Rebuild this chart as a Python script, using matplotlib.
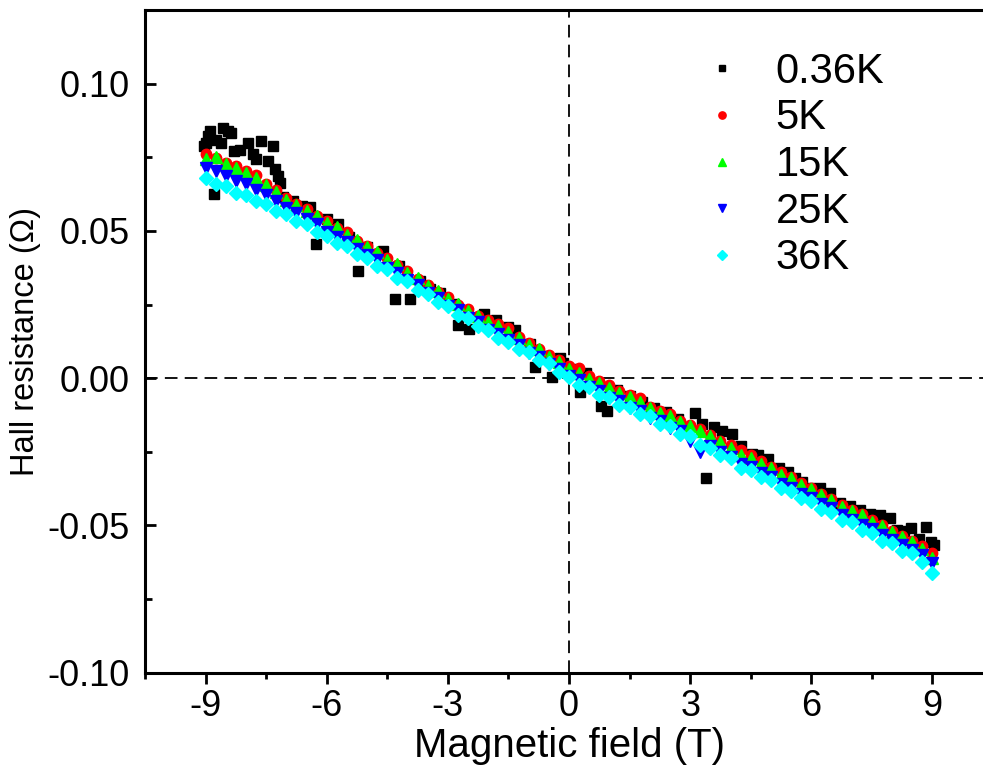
import numpy as np
import matplotlib
matplotlib.use('Agg')
import matplotlib.pyplot as plt
from matplotlib.ticker import MultipleLocator

plt.rcParams['font.family'] = ['Liberation Sans', 'DejaVu Sans']

# field grid (T) shared by the 5K..36K sweeps
field = [-9.0, -8.75, -8.5, -8.25, -8.0, -7.75, -7.5, -7.25, -7.0, -6.75, -6.5, -6.25,
         -6.0, -5.75, -5.5, -5.25, -5.0, -4.75, -4.5, -4.25, -4.0, -3.75, -3.5, -3.25,
         -3.0, -2.75, -2.5, -2.25, -2.0, -1.75, -1.5, -1.25, -1.0, -0.75, -0.5, -0.25,
         0.0, 0.25, 0.5, 0.75, 1.0, 1.25, 1.5, 1.75, 2.0, 2.25, 2.5, 2.75,
         3.0, 3.25, 3.5, 3.75, 4.0, 4.25, 4.5, 4.75, 5.0, 5.25, 5.5, 5.75,
         6.0, 6.25, 6.5, 6.75, 7.0, 7.25, 7.5, 7.75, 8.0, 8.25, 8.5, 8.75, 9.0]

r_5K = [.0762, .0748, .0731, .0722, .0705, .0690, .0660, .0638, .0612, .0590, .0575, .0549,
        .0532, .0510, .0495, .0466, .0450, .0425, .0408, .0383, .0364, .0338, .0318, .0292,
        .0274, .0250, .0236, .0210, .0197, .0185, .0172, .0140, .0118, .0100, .0080, .0062,
        .0042, .0035, .0008, -.0010, -.0022, -.0042, -.0058, -.0068, -.0098, -.0110, -.0122, -.0145,
        -.0158, -.0172, -.0192, -.0212, -.0228, -.0245, -.0262, -.0282, -.0302, -.0318, -.0335, -.0356,
        -.0372, -.0392, -.0410, -.0432, -.0448, -.0462, -.0483, -.0500, -.0518, -.0535, -.0552, -.0570, -.0594]

r_15K = [.0745, .0752, .0728, .0712, .0698, .0680, .0655, .0632, .0606, .0588, .0566, .0552,
         .0528, .0512, .0486, .0470, .0446, .0428, .0402, .0386, .0358, .0340, .0312, .0296,
         .0268, .0252, .0228, .0212, .0190, .0176, .0158, .0138, .0112, .0098, .0072, .0056,
         .0032, .0018, -.0002, -.0018, -.0032, -.0052, -.0064, -.0082, -.0100, -.0118, -.0128, -.0150,
         -.0164, -.0180, -.0198, -.0218, -.0236, -.0262, -.0272, -.0292, -.0306, -.0328, -.0340, -.0362,
         -.0378, -.0396, -.0412, -.0436, -.0452, -.0466, -.0488, -.0502, -.0522, -.0540, -.0556, -.0580, -.0612]

r_25K = [.0712, .0702, .0688, .0670, .0658, .0640, .0622, .0600, .0578, .0560, .0542, .0522,
         .0498, .0480, .0462, .0440, .0418, .0400, .0374, .0358, .0332, .0316, .0290, .0272,
         .0246, .0230, .0204, .0190, .0164, .0150, .0128, .0112, .0086, .0072, .0048, .0032,
         .0006, -.0006, -.0030, -.0042, -.0068, -.0078, -.0102, -.0112, -.0134, -.0146, -.0170, -.0178,
         -.0215, -.0250, -.0232, -.0250, -.0268, -.0290, -.0300, -.0322, -.0336, -.0358, -.0372, -.0392,
         -.0408, -.0428, -.0442, -.0464, -.0480, -.0498, -.0512, -.0532, -.0548, -.0566, -.0582, -.0600, -.0628]

r_36K = [.0680, .0660, .0652, .0630, .0622, .0600, .0590, .0566, .0556, .0532, .0522, .0496,
         .0484, .0458, .0448, .0420, .0408, .0380, .0370, .0340, .0330, .0300, .0286, .0258,
         .0244, .0216, .0204, .0176, .0164, .0138, .0124, .0098, .0088, .0060, .0050, .0022,
         .0004, -.0022, -.0030, -.0056, -.0064, -.0090, -.0098, -.0122, -.0130, -.0154, -.0164, -.0188,
         -.0196, -.0226, -.0238, -.0262, -.0272, -.0304, -.0312, -.0336, -.0346, -.0372, -.0382, -.0408,
         -.0418, -.0444, -.0454, -.0480, -.0490, -.0516, -.0526, -.0552, -.0560, -.0586, -.0594, -.0624, -.0662]

# 0.36K sweep, read point by point
field_036 = [-9.05, -9.0, -8.95, -8.9, -8.78, -8.75, -8.62, -8.58, -8.45, -8.37, -8.29, -8.15,
             -7.96, -7.83, -7.74, -7.62, -7.45, -7.33, -7.28, -7.2, -7.16, -7.08, -6.83, -6.6,
             -6.42, -6.26, -6.0, -5.73, -5.45, -5.22, -5.0, -4.6, -4.3, -4.2, -3.94, -3.7,
             -3.44, -3.2, -2.85, -2.76, -2.48, -2.1, -1.8, -1.5, -1.33, -0.96, -0.84, -0.6,
             -0.42, -0.22, -0.14, 0.05, 0.27, 0.43, 0.8, 0.93, 1.2, 1.5, 1.8, 2.1,
             2.4, 2.7, 3.13, 3.3, 3.38, 3.58, 3.79, 4.04, 4.25, 4.53, 4.69, 4.94,
             5.19, 5.43, 5.6, 5.77, 5.98, 6.22, 6.47, 6.72, 6.95, 7.21, 7.45, 7.71,
             7.96, 8.12, 8.3, 8.46, 8.66, 8.83, 8.96, 9.03]
r_036K = [.0790, .0800, .0823, .0840, .0626, .0810, .0800, .0851, .0840, .0834, .0772, .0775,
          .0800, .0762, .0745, .0806, .0738, .0789, .0710, .0687, .0664, .0614, .0602, .0585,
          .0580, .0457, .0540, .0524, .0480, .0365, .0445, .0433, .0270, .0380, .0270, .0330,
          .0304, .0290, .0253, .0179, .0168, .0219, .0196, .0173, .0162, .0117, .0037, .0075,
          .0003, .0067, .0050, .0030, -.0047, .0016, -.0093, -.0110, -.0040, -.0060, -.0080, -.0100,
          -.0115, -.0140, -.0117, -.0154, -.0340, -.0167, -.0180, -.0188, -.0230, -.0256, -.0262, -.0276,
          -.0306, -.0319, -.0340, -.0353, -.0374, -.0374, -.0390, -.0424, -.0435, -.0449, -.0460, -.0466,
          -.0476, -.0516, -.0520, -.0510, -.0547, -.0505, -.0556, -.0567]

labels = ['0.36K', '5K', '15K', '25K', '36K']

fig = plt.figure(figsize=(9.83, 7.73), dpi=100)
ax = fig.add_axes([0.1475, 0.1298, 0.8627, 0.8572])

ax.axhline(0, color='k', lw=1.3, ls=(0, (7, 4)), zorder=1)
ax.axvline(0, color='k', lw=1.3, ls=(0, (7, 4)), zorder=1)

ax.plot(field_036, r_036K, 's', color='black', ms=7, label=labels[0])
ax.plot(field, r_5K, 'o', color='#ff0000', ms=7.5, label=labels[1])
ax.plot(field, r_15K, '^', color='#00ff00', ms=8.5, label=labels[2])
ax.plot(field, r_25K, 'v', color='#0000ff', ms=8.5, label=labels[3])
ax.plot(field, r_36K, 'D', color='#00ffff', ms=7, label=labels[4])

ax.set_xlim(-10.5, 10.5)
ax.set_ylim(-0.10, 0.125)
ax.xaxis.set_minor_locator(MultipleLocator(1.5))
ax.yaxis.set_minor_locator(MultipleLocator(0.025))
ax.set_yticks([-0.10, -0.05, 0.0, 0.05, 0.10])
ax.set_yticklabels(['-0.10', '-0.05', '0.00', '0.05', '0.10'])
ax.set_xticks([-9, -6, -3, 0, 3, 6, 9])
ax.set_xticklabels(['-9', '-6', '-3', '0', '3', '6', '9'])

for s in ax.spines.values():
    s.set_linewidth(2.2)
ax.tick_params(axis='x', which='major', direction='out', length=8, width=2, labelsize=26, pad=4)
ax.tick_params(axis='x', which='minor', direction='out', length=4.5, width=2)
ax.tick_params(axis='y', which='major', direction='in', length=8, width=2, labelsize=26, pad=11)
ax.tick_params(axis='y', which='minor', direction='in', length=5, width=2)

ax.set_xlabel('Magnetic field (T)', fontsize=29, labelpad=2)
ax.set_ylabel('Hall resistance (\u03a9)', fontsize=23.5, labelpad=5)

ax.legend(loc='upper left', bbox_to_anchor=(0.656, 0.937), frameon=False, fontsize=30,
          markerscale=0.7, handletextpad=0.78, labelspacing=0.16, handlelength=1.0,
          borderaxespad=0, borderpad=0)

fig.savefig('out.png', dpi=100)
